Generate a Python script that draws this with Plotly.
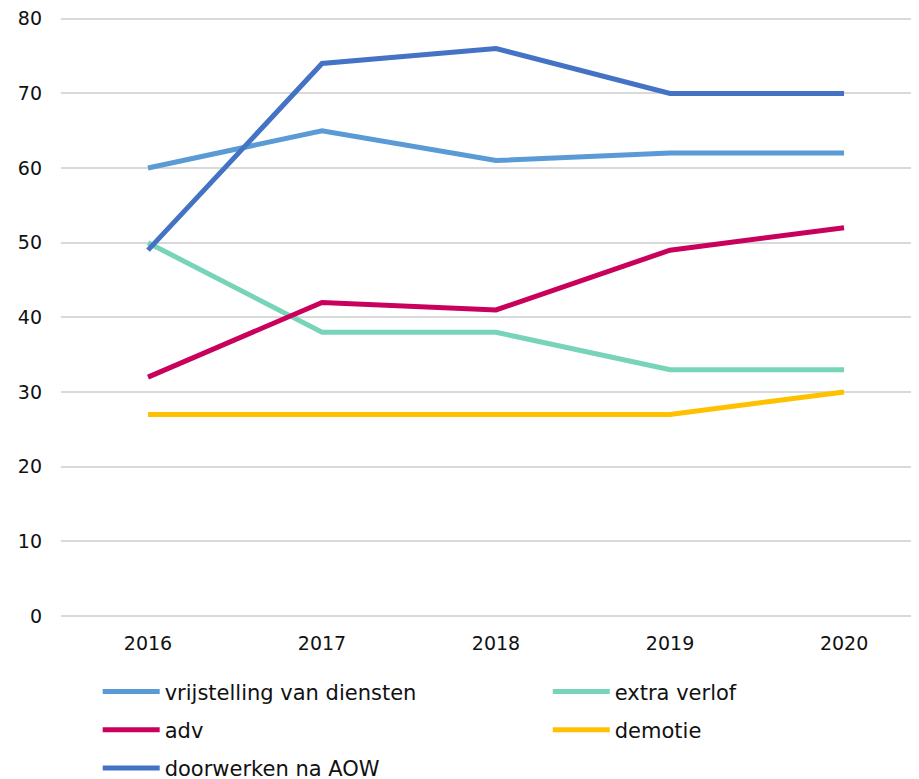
import plotly.graph_objects as go

years = ["2016", "2017", "2018", "2019", "2020"]
vrijstelling = [60, 65, 61, 62, 62]
extra_verlof = [50, 38, 38, 33, 33]
adv = [32, 42, 41, 49, 52]
demotie = [27, 27, 27, 27, 30]
doorwerken = [49, 74, 76, 70, 70]

# name, values, colour, which legend column
series = [
    ("vrijstelling van diensten", vrijstelling, "#5B9BD5", "legend"),
    ("extra verlof", extra_verlof, "#77D4B9", "legend2"),
    ("adv", adv, "#C9005C", "legend"),
    ("demotie", demotie, "#FFC000", "legend2"),
    ("doorwerken na AOW", doorwerken, "#4472C4", "legend"),
]

fig = go.Figure()
for name, vals, col, leg in series:
    fig.add_trace(go.Scatter(x=years, y=vals, name=name, mode="lines",
                             legend=leg, legendgroup=name,
                             line=dict(color=col, width=5)))

# page has an 8px body margin, so margins are shifted by 8px
leg_common = dict(orientation="v", yanchor="top", xanchor="left",
                  font=dict(size=21, color="#111111"), tracegroupgap=8,
                  itemwidth=57, bgcolor="rgba(0,0,0,0)")
fig.update_layout(
    width=919, height=779,
    margin=dict(l=53, r=9, t=7.27, b=171, autoexpand=False),
    plot_bgcolor="white", paper_bgcolor="white",
    font=dict(family="DejaVu Sans", size=19, color="#111111"),
    showlegend=True,
    legend=dict(x=0.0428, y=-0.092, **leg_common),
    legend2=dict(x=0.568, y=-0.092, **leg_common),
)
fig.update_xaxes(type="category", range=[-0.5, 4.425], showgrid=False,
                 showline=False, ticks="", ticklabelstandoff=14)
# top of range a bit above 80 so the 80 gridline is drawn
fig.update_yaxes(range=[0, 80.5], tickvals=[0, 10, 20, 30, 40, 50, 60, 70, 80],
                 showgrid=True, gridcolor="#D9D9D9",
                 gridwidth=1.5, zeroline=True, zerolinecolor="#D9D9D9",
                 zerolinewidth=1.5, ticks="", ticklabelstandoff=18,
                 ticklabeloverflow="allow")

fig.write_html("out.html")
